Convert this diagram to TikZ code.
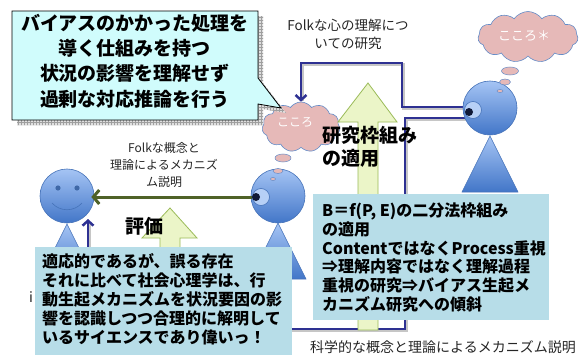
\documentclass[tikz,border=0pt]{standalone}
\usepackage{fontspec}
\setmainfont{Noto Sans CJK JP}
\usetikzlibrary{shapes.symbols,shapes.geometric,arrows.meta,patterns}

\definecolor{navy}{RGB}{46,49,146}
\definecolor{olivearrow}{RGB}{79,98,40}
\definecolor{boxteal}{RGB}{183,221,232}
\definecolor{callfill}{RGB}{208,252,252}
\definecolor{cloudpink}{RGB}{230,185,184}
\definecolor{cloudline}{RGB}{100,140,200}
\definecolor{headtop}{RGB}{165,196,244}
\definecolor{headbot}{RGB}{66,118,200}
\definecolor{headline}{RGB}{70,115,185}
\definecolor{arrowfill}{RGB}{235,245,200}
\definecolor{arrowline}{RGB}{155,187,89}
\definecolor{labelgray}{RGB}{38,38,38}

\tikzset{
  head/.style={circle, inner sep=0pt, minimum size=54pt, top color=headtop,
    bottom color=headbot, draw=headline, line width=0.6pt},
  body/.style={top color=headtop, bottom color=headbot, draw=headline, line width=0.6pt},
  eyering/.style={circle, inner sep=0pt, minimum size=17pt, fill=headtop!80,
    draw=headline, line width=0.6pt},
  pupil/.style={circle, inner sep=0pt, minimum size=8pt, fill={rgb,255:red,15;green,25;blue,55}},
  thought/.style={cloud, cloud puffs=11, cloud puff arc=110, inner sep=0pt,
    fill=cloudpink, draw=cloudline, line width=0.6pt},
  bubble/.style={ellipse, inner sep=0pt, fill=cloudpink, draw=cloudline, line width=0.5pt},
  mindtext/.style={text=white, inner sep=0pt},
  infobox/.style={fill=boxteal},
  boxtext/.style={inner sep=0pt, align=left, font=\bfseries\fontsize{16}{18.9}\selectfont},
  bigbold/.style={inner sep=0pt, align=left, font=\bfseries\fontsize{19}{23}\selectfont},
  smalllabel/.style={inner sep=0pt, align=center, text=labelgray},
  navyline/.style={draw=navy, line width=2.5pt, -{Straight Barb[length=5pt,width=11pt]}},
  navyshadow/.style={draw=gray!45, line width=2.5pt},
  blockarrow/.style={fill=arrowfill, draw=arrowline, line width=0.8pt},
}

\begin{document}
\begin{tikzpicture}[x=1pt, y=-1pt]
\path[use as bounding box] (0,0) rectangle (582,356);
\fill[white] (0,0) rectangle (582,356);

% ---- connectors drawn beneath everything else ----
\coordinate (r1) at (464,107);
\coordinate (r2) at (465,118);
\coordinate (lfoot) at (88,219);

% small thought cloud of the researcher (needed as a target)
\node[thought, minimum width=78pt, minimum height=50pt] (scloud) at (301,127) {};

\draw[navyshadow, shift={(1.5,1.5)}] (464,107) -- (402,107) -- (402,63) -- (301,63) -- (301,99);
\draw[navyline] (r1) -- (402,107) -- (402,63) -- (scloud.north |- 0,63) -- (scloud.north);

\draw[navyshadow, shift={(1.5,1.5)}] (465,118) -- (405,118) -- (405,329) -- (88,329) -- (88,222);
\draw[navyline] (r2) -- (405,118) -- (405,329) -- (88,329) -- (lfoot);

% ---- block arrows ----
\draw[blockarrow] (358,330) -- (358,122) -- (338,122) -- (368,83) -- (397,122)
  -- (378,122) -- (378,330) -- cycle;
\draw[blockarrow] (160,300) -- (160,238) -- (142,238) -- (170,208) -- (197,238)
  -- (180,238) -- (180,300) -- cycle;

% ---- left person (lay person) ----
\shade[body] (67,224) -- (95,280) -- (39,280) -- cycle;
\node[head] (lhead) at (67,196) {};
\fill[headline!90!black] (58,188) circle[radius=2.6] (77,188) circle[radius=2.6];
\draw[headline, line width=0.6pt] (52,203) .. controls (60,212) and (74,212) .. (82,203);

% ---- middle person (psychologist) ----
\shade[body] (278,223) -- (306,279) -- (250,279) -- cycle;
\node[head] (mhead) at (278,196) {};
\node[eyering] (mring) at (261,197) {};
\node[pupil] (meye) at (256,197) {};
\node[bubble, minimum width=5pt, minimum height=3pt] (mb0) at (273,179) {};
\node[bubble, minimum width=10pt, minimum height=5pt] (mb1) at (278,171) {};
\node[bubble, minimum width=16pt, minimum height=8pt] (mb2) at (283,158) {};
\node[mindtext, font=\fontsize{12}{14}\selectfont] (smind) at (295,122) {こころ};

% ---- right person (social psychologist) ----
\shade[body] (490,136) -- (518,192) -- (462,192) -- cycle;
\node[head] (rhead) at (490,108) {};
\node[eyering] (rring) at (473,110) {};
\node[pupil] (reye) at (469,112) {};
\node[bubble, minimum width=6pt, minimum height=3pt] (rb0) at (500,91) {};
\node[bubble, minimum width=11pt, minimum height=6pt] (rb1) at (505,82) {};
\node[bubble, minimum width=17pt, minimum height=8pt] (rb2) at (510,71) {};
\node[thought, minimum width=100pt, minimum height=51pt] (bcloud) at (528,37) {};
\node[mindtext, font=\fontsize{13}{15}\selectfont] (bmind) at (524,36) {こころ＊};

% ---- green explanation arrow ----
\draw[draw=olivearrow, line width=3pt, -{Straight Barb[length=6pt,width=14pt]},
  shorten >=-3pt] (meye) -- (lhead.east |- meye);

% ---- callout ----
\fill[fill=gray!25, shift={(5,5)}] (12,11) -- (258,11) -- (258,78) -- (281,108)
  -- (258,104) -- (258,120) -- (12,120) -- cycle;
\fill[pattern=grid, pattern color=gray!75, shift={(5,5)}] (12,11) -- (258,11) -- (258,78)
  -- (281,108) -- (258,104) -- (258,120) -- (12,120) -- cycle;
\draw[fill=callfill, draw=black, line width=0.8pt] (12,11) -- (258,11) -- (258,78)
  -- (281,108) -- (258,104) -- (258,120) -- (12,120) -- cycle;
\node[inner sep=0pt, align=center, font=\bfseries\fontsize{19}{25.3}\selectfont] (callout)
  at (135,61) {バイアスのかかった処理を\\導く仕組みを持つ\\状況の影響を理解せず\\過剰な対応推論を行う};

% ---- labels ----
\node[smalllabel, font=\fontsize{13.5}{18}\selectfont] (folkstudy) at (348,34)
  {Folkな心の理解につ\\いての研究};
\node[smalllabel, font=\fontsize{12}{17}\selectfont] (folkexpl) at (164,165)
  {Folkな概念と\\理論によるメカニズ\\ム説明};
\node[bigbold, anchor=center] (hyoka) at (144,226) {評価};
\node[bigbold, anchor=west] (apply) at (322,146.5) {研究枠組み\\の適用};
\node[smalllabel, font=\fontsize{14}{16}\selectfont] (leftover) at (31,297) {i};

% ---- information boxes ----
\fill[infobox] (313,194) rectangle (549,320);
\node[boxtext, anchor=west] (rtext) at (322,257.5)
  {B＝f(P, E)の二分法枠組み\\の適用\\ContentではなくProcess重視\\⇒理解内容ではなく理解過程\\重視の研究⇒バイアス生起メ\\カニズム研究への傾斜};
\fill[infobox] (35,247) rectangle (292,355);
\node[boxtext, anchor=west] (ltext) at (42,299.5)
  {適応的であるが、誤る存在\\それに比べて社会心理学は、行\\動生起メカニズムを状況要因の影\\響を認識しつつ合理的に解明して\\いるサイエンスであり偉いっ！};

\node[smalllabel, font=\fontsize{14}{16}\selectfont] (scilabel) at (443,347)
  {科学的な概念と理論によるメカニズム説明};
\end{tikzpicture}
\end{document}
